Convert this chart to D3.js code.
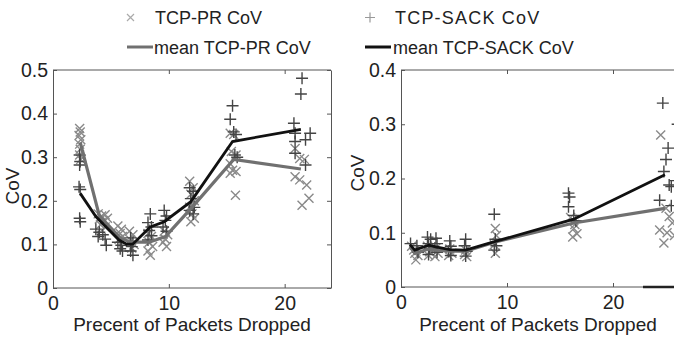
<!DOCTYPE html>
<html>
<head>
<meta charset="utf-8">
<title>CoV vs packets dropped</title>
<script src="https://d3js.org/d3.v7.min.js"></script>
<style>
	body { margin: 0; background: #fff; }
	text { font-family: "Liberation Sans", Arial, sans-serif; fill: #222; }
</style>
</head>
<body>
<div id="chart"></div>
<script>
// left panel : TCP-PR points (x marks) and TCP-SACK points (+ marks)
var leftPr = [
	[2.3,0.366],[2.35,0.358],[2.25,0.350],[2.4,0.340],[2.3,0.330],[2.35,0.318],[2.3,0.305],[2.4,0.295],
	[3.9,0.170],[4.2,0.165],[4.5,0.168],[4.0,0.158],[4.4,0.155],[4.7,0.160],[4.1,0.145],[4.5,0.140],
	[5.6,0.142],[5.9,0.135],[5.8,0.125],[6.0,0.118],[5.7,0.112],
	[6.6,0.130],[6.9,0.122],[6.7,0.110],[7.0,0.100],[6.8,0.092],
	[8.2,0.125],[8.5,0.118],[8.3,0.105],[8.6,0.095],[8.2,0.085],[8.4,0.075],
	[9.6,0.130],[9.9,0.122],[9.7,0.112],[9.5,0.105],[9.8,0.095],
	[11.8,0.245],[12.1,0.230],[11.9,0.215],[12.2,0.200],[11.8,0.185],[12.0,0.170],[12.2,0.160],[11.9,0.152],
	[15.3,0.355],[15.6,0.352],[15.4,0.313],[15.8,0.305],[15.3,0.285],[15.5,0.270],[15.3,0.263],[15.8,0.267],[15.75,0.213],
	[21.3,0.297],[20.9,0.320],[20.9,0.255],[21.3,0.248],[21.9,0.236],[22.1,0.206],[21.5,0.190],[21.7,0.295]
];
var leftSack = [
	[2.3,0.305],[2.35,0.290],[2.3,0.282],[2.25,0.232],[2.35,0.226],[2.3,0.160],[2.35,0.152],
	[3.7,0.135],[4.0,0.128],[4.3,0.122],[3.9,0.118],[4.5,0.112],[4.6,0.098],
	[5.6,0.105],[5.9,0.098],[5.8,0.090],[6.0,0.085],
	[6.7,0.115],[6.9,0.105],[6.8,0.095],[6.7,0.085],[6.9,0.075],
	[8.4,0.170],[8.2,0.150],[8.5,0.140],[8.3,0.132],[8.5,0.120],[8.2,0.110],
	[9.6,0.178],[9.8,0.165],[9.7,0.155],[9.5,0.140],[9.8,0.130],
	[11.8,0.230],[12.1,0.222],[11.9,0.205],[12.2,0.185],[11.8,0.178],[12.1,0.170],
	[15.5,0.418],[15.3,0.387],[15.6,0.358],[15.8,0.352],[15.7,0.305],[15.9,0.300],
	[21.5,0.481],[21.4,0.445],[20.8,0.378],[20.9,0.355],[22.2,0.355],[21.8,0.340],[20.9,0.336],[20.9,0.309],[21.8,0.282]
];
var leftPrMean = [[2.35,0.334],[4.0,0.166],[5.8,0.115],[6.7,0.105],[8.3,0.105],[9.7,0.118],[12.0,0.185],[15.6,0.295],[21.4,0.273]];
var leftSackMean = [[2.35,0.217],[3.7,0.164],[5.7,0.110],[6.4,0.100],[6.9,0.101],[8.4,0.140],[9.6,0.152],[11.9,0.198],[15.5,0.336],[21.4,0.364]];

// right panel
var rightPr = [
	[1.0,0.075],[1.3,0.062],[1.4,0.050],[1.6,0.058],[1.2,0.068],
	[2.5,0.075],[2.7,0.065],[2.6,0.058],[3.3,0.072],[3.5,0.062],[3.2,0.056],
	[4.6,0.070],[4.8,0.062],[4.5,0.058],[6.1,0.068],[6.0,0.060],[6.2,0.056],
	[8.9,0.108],[9.0,0.095],[8.8,0.078],[8.9,0.062],
	[16.0,0.128],[16.4,0.115],[16.6,0.098],[16.2,0.092],[16.3,0.108],
	[24.5,0.280],[25.0,0.145],[25.3,0.130],[25.6,0.118],[24.4,0.105],[25.1,0.100],[24.8,0.081],[25.8,0.095]
];
var rightSack = [
	[0.9,0.080],[1.5,0.076],[1.6,0.064],
	[2.5,0.092],[2.8,0.088],[2.6,0.080],[2.7,0.070],[2.6,0.060],
	[3.3,0.090],[3.4,0.080],[3.2,0.072],[3.4,0.064],
	[4.6,0.085],[4.7,0.075],[4.5,0.066],[4.7,0.058],
	[6.1,0.088],[6.0,0.076],[6.2,0.066],[6.1,0.057],
	[8.8,0.134],[8.9,0.088],[9.0,0.076],[8.8,0.068],
	[15.8,0.173],[15.9,0.166],[15.8,0.148],[16.3,0.132],[16.5,0.122],
	[24.7,0.339],[25.2,0.256],[25.0,0.235],[24.8,0.213],[25.3,0.188],[25.5,0.185],[24.4,0.160],[25.5,0.150],[26.1,0.300],[25.9,0.196]
];
var rightPrMean = [[0.85,0.075],[1.3,0.062],[2.6,0.070],[3.3,0.068],[4.6,0.066],[6.1,0.066],[8.9,0.083],[16.3,0.118],[24.9,0.145]];
var rightSackMean = [[0.85,0.078],[1.3,0.068],[2.6,0.077],[3.3,0.074],[4.6,0.069],[6.1,0.068],[8.9,0.084],[16.3,0.125],[24.9,0.207]];

var leftXTicks = [0, 10, 20];
var leftYTicks = [0, 0.1, 0.2, 0.3, 0.4, 0.5];
var rightXTicks = [0, 10, 20];
var rightYTicks = [0, 0.1, 0.2, 0.3, 0.4];

var w = 674, h = 337;
var svg = d3.select("#chart").append("svg")
	.attr("width", w)
	.attr("height", h);

var prColor = "#8a8a8a", sackColor = "#444";
var prMeanColor = "#707070", sackMeanColor = "#111";

function panel(o) {
	var x = d3.scaleLinear().domain(o.xDomain).range(o.xRange);
	var y = d3.scaleLinear().domain(o.yDomain).range(o.yRange);
	var x0 = o.xRange[0], x1 = Math.min(o.xRange[1], w + 5);
	var y0 = o.yRange[0], y1 = o.yRange[1];
	var g = svg.append("g");

	// axes with inward ticks, mirrored on the opposite side
	var bottom = g.append("g").attr("transform", "translate(0," + y0 + ")")
		.call(d3.axisBottom(x).tickValues(o.xTicks).tickSizeInner(-4).tickSizeOuter(0).tickPadding(8));
	var top = g.append("g").attr("transform", "translate(0," + y1 + ")")
		.call(d3.axisTop(x).tickValues(o.xTicks).tickSizeInner(-4).tickSizeOuter(0).tickFormat(""));
	var left = g.append("g").attr("transform", "translate(" + x0 + ",0)")
		.call(d3.axisLeft(y).tickValues(o.yTicks).tickSizeInner(-4).tickSizeOuter(0).tickPadding(5)
			.tickFormat(function(d) { return d === 0 ? "0" : d3.format(".1f")(d); }));
	g.selectAll(".domain").attr("stroke", "#555");
	g.selectAll(".tick line").attr("stroke", "#555");
	g.selectAll(".tick text").style("font-size", "19.5px").attr("fill", "#222");
	if (o.rightBorder) {
		g.append("g").attr("transform", "translate(" + o.xRange[1] + ",0)")
			.call(d3.axisRight(y).tickValues(o.yTicks).tickSizeInner(-4).tickSizeOuter(0).tickFormat(""))
			.selectAll("line, path").attr("stroke", "#555");
	}
	bottom.select(".domain").attr("d", "M" + x0 + ",0H" + x1);
	top.select(".domain").attr("d", "M" + x0 + ",0H" + x1);

	// axis titles
	g.append("text")
		.attr("x", o.xLabelX).attr("y", 331)
		.attr("text-anchor", "middle")
		.style("font-size", "19px")
		.text("Precent of Packets Dropped");
	g.append("text")
		.attr("transform", "translate(" + o.yLabelX + "," + o.yLabelY + ") rotate(-90)")
		.attr("text-anchor", "middle")
		.style("font-size", "19px")
		.text("CoV");

	var line = d3.line().x(function(d) { return x(d[0]); }).y(function(d) { return y(d[1]); });

	// scatter marks
	g.selectAll(".pr").data(o.pr).enter().append("path")
		.attr("d", function(d) {
			var cx = x(d[0]), cy = y(d[1]), s = 4.5;
			return "M" + (cx - s) + "," + (cy - s) + "L" + (cx + s) + "," + (cy + s) +
				"M" + (cx - s) + "," + (cy + s) + "L" + (cx + s) + "," + (cy - s);
		})
		.attr("stroke", prColor).attr("stroke-width", 1.4).attr("fill", "none");
	g.selectAll(".sack").data(o.sack).enter().append("path")
		.attr("d", function(d) {
			var cx = x(d[0]), cy = y(d[1]), s = 6;
			return "M" + (cx - s) + "," + cy + "H" + (cx + s) + "M" + cx + "," + (cy - s) + "V" + (cy + s);
		})
		.attr("stroke", sackColor).attr("stroke-width", 1.4).attr("fill", "none");

	// mean lines
	g.append("path").datum(o.prMean).attr("d", line)
		.attr("fill", "none").attr("stroke", prMeanColor).attr("stroke-width", 3.2);
	g.append("path").datum(o.sackMean).attr("d", line)
		.attr("fill", "none").attr("stroke", sackMeanColor).attr("stroke-width", 2.8);
}

panel({
	xDomain: [0, 24], xRange: [53, 331], yDomain: [0, 0.5], yRange: [288, 70],
	xTicks: leftXTicks, yTicks: leftYTicks, rightBorder: true,
	pr: leftPr, sack: leftSack, prMean: leftPrMean, sackMean: leftSackMean,
	xLabelX: 192, yLabelX: 19, yLabelY: 186
});
panel({
	xDomain: [0, 27], xRange: [401, 687.2], yDomain: [0, 0.4], yRange: [287, 70],
	xTicks: rightXTicks, yTicks: rightYTicks, rightBorder: false,
	pr: rightPr, sack: rightSack, prMean: rightPrMean, sackMean: rightSackMean,
	xLabelX: 538, yLabelX: 364, yLabelY: 173
});
// dark segment at the lower right of the second panel
svg.append("line")
	.attr("x1", 643).attr("x2", w).attr("y1", 287).attr("y2", 287)
	.attr("stroke", "#222").attr("stroke-width", 2.5);

// legend
var legend = svg.append("g");
legend.append("path")
	.attr("d", "M127,14L134,21M127,21L134,14")
	.attr("stroke", "#aaa").attr("stroke-width", 1.2);
legend.append("text").attr("x", 155).attr("y", 24).style("font-size", "18px").text("TCP-PR CoV");
legend.append("path")
	.attr("d", "M365,17.5H375M370,12.5V22.5")
	.attr("stroke", "#999").attr("stroke-width", 1.2);
legend.append("text").attr("x", 395).attr("y", 24).style("font-size", "18px")
	.style("letter-spacing", "1.2px").text("TCP-SACK CoV");
legend.append("line").attr("x1", 127).attr("x2", 153).attr("y1", 47).attr("y2", 47)
	.attr("stroke", prMeanColor).attr("stroke-width", 3);
legend.append("text").attr("x", 154).attr("y", 54).style("font-size", "18px").text("mean TCP-PR CoV");
legend.append("line").attr("x1", 365).attr("x2", 391).attr("y1", 47).attr("y2", 47)
	.attr("stroke", sackMeanColor).attr("stroke-width", 3);
legend.append("text").attr("x", 393).attr("y", 54).style("font-size", "18px").text("mean TCP-SACK CoV");
</script>
</body>
</html>
